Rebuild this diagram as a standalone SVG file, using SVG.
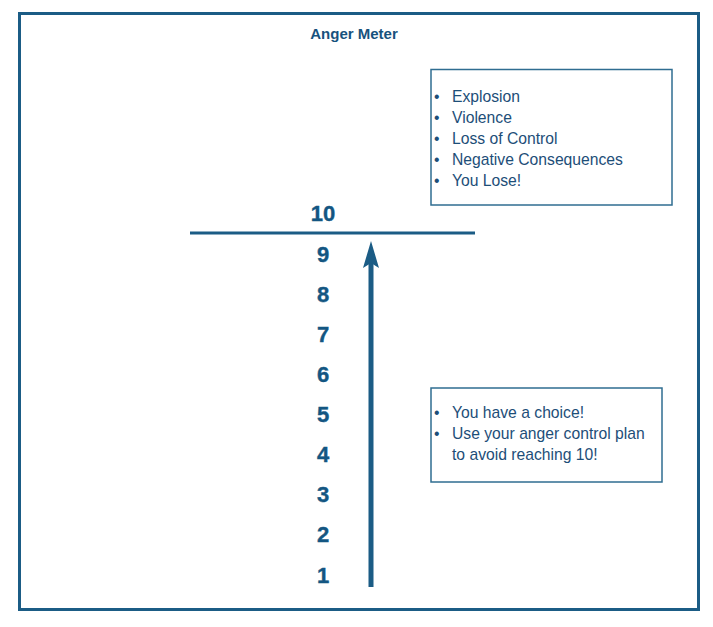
<svg xmlns="http://www.w3.org/2000/svg" width="713" height="627" viewBox="0 0 713 627">
<style>
.frame{fill:none;stroke:#1b5c85;stroke-width:3}
.box{fill:#fff;stroke:#2f6d91;stroke-width:1.5}
.title{font-family:"Liberation Sans",Arial,sans-serif;font-weight:bold;font-size:15px;fill:#17527d;text-anchor:middle}
.num{font-family:"Liberation Sans",Arial,sans-serif;font-weight:bold;font-size:22px;fill:#135682;text-anchor:middle;stroke:#135682;stroke-width:0.4}
.item{font-family:"Liberation Sans",Arial,sans-serif;font-size:15.7px;fill:#1d4e78}
.line{stroke:#1b5c85;stroke-width:3}
</style>
<rect width="713" height="627" fill="#fff"/>
<rect id="frame" class="frame" x="19.5" y="13.5" width="679" height="596"/>
<g id="title"><text class="title" x="354" y="38.5">Anger Meter</text></g>
<g id="box-top">
<rect class="box" x="431" y="69.5" width="241" height="135.5"/>
<g class="item">
<text x="434" y="102">•</text><text x="452" y="102">Explosion</text>
<text x="434" y="123">•</text><text x="452" y="123">Violence</text>
<text x="434" y="143.5">•</text><text x="452" y="143.5">Loss of Control</text>
<text x="434" y="164.5">•</text><text x="452" y="164.5">Negative Consequences</text>
<text x="434" y="185.5">•</text><text x="452" y="185.5">You Lose!</text>
</g>
</g>
<g id="box-bottom">
<rect class="box" x="431" y="388" width="231" height="94"/>
<g class="item">
<text x="434" y="418">•</text><text x="452" y="418">You have a choice!</text>
<text x="434" y="439">•</text><text x="452" y="439">Use your anger control plan</text>
<text x="452" y="460">to avoid reaching 10!</text>
</g>
</g>
<g id="scale">
<text class="num" x="323" y="221">10</text>
<text class="num" x="323" y="262">9</text>
<text class="num" x="323" y="302">8</text>
<text class="num" x="323" y="342">7</text>
<text class="num" x="323" y="382">6</text>
<text class="num" x="323" y="422">5</text>
<text class="num" x="323" y="462">4</text>
<text class="num" x="323" y="502">3</text>
<text class="num" x="323" y="542">2</text>
<text class="num" x="323" y="583">1</text>
</g>
<g id="connectors">
<line class="line" x1="190" y1="233" x2="475" y2="233"/>
<rect x="368.5" y="260" width="5" height="327" fill="#1b5c85"/>
<path d="M371 241 L379 268 L371 263 L363 268 Z" fill="#1b5c85"/>
</g>
</svg>
